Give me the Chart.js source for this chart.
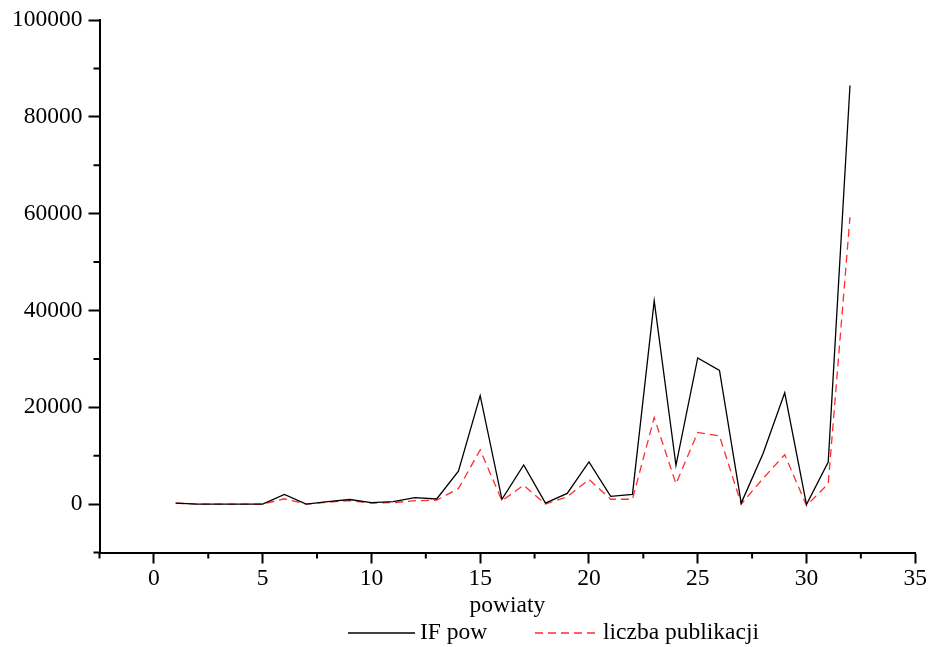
<!DOCTYPE html>
<html>
<head>
<meta charset="utf-8">
<script src="https://cdn.jsdelivr.net/npm/chart.js@4.4.1/dist/chart.umd.min.js"></script>
<style>
html,body{margin:0;padding:0;background:#ffffff;}
#wrap{width:928px;height:647px;}
</style>
</head>
<body>
<div id="wrap"><canvas id="c" width="928" height="647"></canvas></div>
<script>
const powiaty = [1,2,3,4,5,6,7,8,9,10,11,12,13,14,15,16,17,18,19,20,21,22,23,24,25,26,27,28,29,30,31,32];
const ifPow = [200,0,0,0,0,2000,0,500,950,300,500,1350,1050,6800,22400,1000,8100,200,2200,8700,1600,2000,42000,8000,30200,27600,200,10400,23000,-100,8700,86500];
const liczbaPublikacji = [200,0,0,0,0,1100,0,400,700,200,300,700,800,3200,11200,700,3900,0,1500,5100,1000,1000,17900,4200,14800,14100,0,5300,10200,-300,4200,59300];
const xTickLabels = [0,5,10,15,20,25,30,35];
const yTickLabels = [0,20000,40000,60000,80000,100000];
const xAxisTitle = 'powiaty';
const seriesNames = ['IF pow','liczba publikacji'];

const FONT = 'Liberation Serif';
const FS = 23.5;
const toPts = (ys) => powiaty.map((x, i) => ({x: x, y: ys[i]}));

const minorTicks = {
  id: 'minorTicks',
  afterDraw(chart) {
    const ctx = chart.ctx;
    const xs = chart.scales.x, ys = chart.scales.y;
    const a = chart.chartArea;
    ctx.save();
    ctx.strokeStyle = '#000';
    ctx.lineWidth = 2;
    ctx.beginPath();
    ctx.moveTo(a.left, a.bottom); ctx.lineTo(a.left, a.bottom + 6);
    ctx.moveTo(a.left - 6, a.bottom); ctx.lineTo(a.left, a.bottom);
    ctx.stroke();
    ctx.beginPath();
    for (let v = -2.5; v <= 35; v += 2.5) {
      if (v % 5 === 0 || v === -2.5) continue;
      const px = xs.getPixelForValue(v);
      ctx.moveTo(px, a.bottom); ctx.lineTo(px, a.bottom + 6);
    }
    for (let v = 10000; v <= 90000; v += 20000) {
      const py = ys.getPixelForValue(v);
      ctx.moveTo(a.left, py); ctx.lineTo(a.left - 6, py);
    }
    ctx.stroke();
    const ds = chart.data.datasets;
    const ly = 633;
    const items = [
      {x1: 348, x2: 415, tx: 420, d: ds[0]},
      {x1: 535, x2: 597, tx: 603, d: ds[1]}
    ];
    ctx.font = FS + 'px "' + FONT + '"';
    ctx.textBaseline = 'middle';
    ctx.textAlign = 'left';
    items.forEach(it => {
      ctx.beginPath();
      ctx.strokeStyle = it.d.borderColor;
      ctx.lineWidth = it.d.borderWidth;
      ctx.setLineDash(it.d.borderDash || []);
      ctx.moveTo(it.x1, ly); ctx.lineTo(it.x2, ly);
      ctx.stroke();
      ctx.setLineDash([]);
      ctx.fillStyle = '#000';
      ctx.fillText(it.d.label, it.tx, ly);
    });
    ctx.restore();
  }
};

new Chart(document.getElementById('c'), {
  type: 'scatter',
  data: {
    datasets: [
      {label: seriesNames[0], data: toPts(ifPow), showLine: true, borderColor: '#000000', borderWidth: 1.3, pointRadius: 0, tension: 0},
      {label: seriesNames[1], data: toPts(liczbaPublikacji), showLine: true, borderColor: 'rgb(255,45,45)', borderWidth: 1.3, borderDash: [8,5], pointRadius: 0, tension: 0}
    ]
  },
  options: {
    responsive: false,
    animation: false,
    devicePixelRatio: 1,
    layout: {padding: {left: 0, top: 4, right: 2, bottom: 27.5}},
    plugins: {legend: {display: false}, tooltip: {enabled: false}},
    scales: {
      x: {
        type: 'linear', min: -2.5, max: 35,
        afterBuildTicks: s => { s.ticks = xTickLabels.map(v => ({value: v})); },
        afterFit: s => { s.height = 67; },
        ticks: {color: '#000', font: {family: FONT, size: FS}, padding: 1, maxRotation: 0, autoSkip: false, callback: v => String(v)},
        grid: {display: true, drawOnChartArea: false, drawTicks: true, tickLength: 11, tickWidth: 2, tickColor: '#000'},
        border: {display: true, color: '#000', width: 2},
        title: {display: true, text: xAxisTitle, color: '#000', font: {family: FONT, size: FS}, padding: {top: 0, bottom: 0}}
      },
      y: {
        type: 'linear', min: -10000, max: 100000,
        afterBuildTicks: s => { s.ticks = yTickLabels.map(v => ({value: v})); },
        afterFit: s => { s.width = 99.5; },
        ticks: {color: '#000', font: {family: FONT, size: FS}, padding: 6, callback: v => String(v)},
        grid: {display: true, drawOnChartArea: false, drawTicks: true, tickLength: 11, tickWidth: 2, tickColor: '#000'},
        border: {display: true, color: '#000', width: 2}
      }
    }
  },
  plugins: [minorTicks]
});
</script>
</body>
</html>
